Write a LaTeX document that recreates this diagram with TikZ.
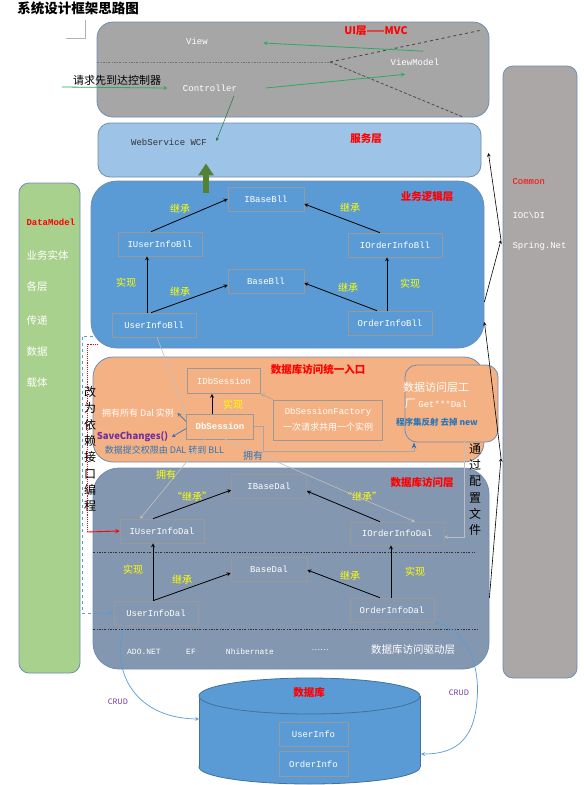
\documentclass[tikz,border=0pt]{standalone}
\usepackage{fontspec}
\setmainfont{Noto Sans CJK SC}
\newfontfamily\codefont{Liberation Mono}
\usetikzlibrary{arrows.meta,calc}

\definecolor{uigray}{HTML}{A6A6A6}
\definecolor{cmngray}{HTML}{ABA7A7}
\definecolor{svcblue}{HTML}{9DC3E6}
\definecolor{bllblue}{HTML}{5B9BD5}
\definecolor{entorange}{HTML}{F4B183}
\definecolor{dalslate}{HTML}{8497B0}
\definecolor{modelgreen}{HTML}{A9D18E}
\definecolor{rimblue}{HTML}{6F8DB3}
\definecolor{arrowgreen}{HTML}{2EAA5E}
\definecolor{blockgreen}{HTML}{548235}
\definecolor{tagyellow}{HTML}{FFFF00}
\definecolor{noteblue}{HTML}{2E75B6}
\definecolor{notepurple}{HTML}{7030A0}
\definecolor{dbrim}{HTML}{41719C}

\newcommand{\fsz}[2]{\fontsize{#1}{#2}\selectfont}

\tikzset{
  tier/.style={draw=rimblue, line width=0.8pt, rounded corners=#1, inner sep=0pt},
  cls/.style={draw=black!40, line width=0.6pt, text=white, font=\codefont\fsz{9}{10},
              inner sep=0pt, minimum height=24pt},
  code/.style={text=white, font=\codefont\fsz{9}{10}},
  tiername/.style={text=red, font=\bfseries\fsz{10.5}{12}},
  tag/.style={text=tagyellow, font=\fsz{10}{12}},
  inh/.style={->, black, line width=0.8pt},
  mvc/.style={->, arrowgreen, line width=0.8pt},
  wire/.style={->, black!25, line width=0.6pt},
  crud/.style={->, bllblue, line width=0.7pt},
  vtext/.style={align=center, font=\fsz{12}{16.3}},
}

\begin{document}
\begin{tikzpicture}[x=1pt, y=-1pt, >=stealth]
\useasboundingbox[fill=white] (0,0) rectangle (584,785);

% Title
\node[font=\bfseries\fsz{13.5}{15}] (ttl) at (78,8) {系统设计框架思路图};
\draw[black!30] (85,20) -- (85,38) -- (66,38);

% DataModel / Common columns
\node[tier=10pt, fill=modelgreen, minimum width=61pt, minimum height=490pt] (model) at (49.5,428) {};
\node[anchor=west, text=red, font=\codefont\bfseries\fsz{9}{10}] (dm) at (23,222) {DataModel};
\node[anchor=west, text=white, font=\fsz{10.5}{12}] (dm1) at (23,255) {业务实体};
\node[anchor=west, text=white, font=\fsz{10.5}{12}] (dm2) at (23,287) {各层};
\node[anchor=west, text=white, font=\fsz{10.5}{12}] (dm3) at (23,320) {传递};
\node[anchor=west, text=white, font=\fsz{10.5}{12}] (dm4) at (23,352) {数据};
\node[anchor=west, text=white, font=\fsz{10.5}{12}] (dm5) at (23,383) {载体};

\node[tier=10pt, fill=cmngray, minimum width=74pt, minimum height=612pt] (common) at (540,372) {};
\node[anchor=west, code, text=red] (cm) at (509,182) {Common};
\node[anchor=west, code] (cm1) at (509,215) {IOC\textbackslash DI};
\node[anchor=west, code] (cm2) at (509,246) {Spring.Net};

% UI layer
\node[tier=16pt, fill=uigray, minimum width=392pt, minimum height=95pt] (ui) at (293,69.5) {};
\node[tiername] (uiname) at (376,31) {UI层——MVC};
\coordinate (fork) at (330,62);
\draw[black!55, dash pattern=on 2pt off 1.5pt on 0.6pt off 1.5pt] (97,62) -- (fork);
\draw[black!70, dashed, line width=0.9pt] (fork) -- (482,30);
\draw[black!70, densely dashed, line width=0.8pt] (fork) -- (463,117);
\node[code] (view) at (197,41) {View};
\node[code] (vm) at (415,62) {ViewModel};
\node[code] (ctrl) at (210,88) {Controller};
\node[font=\fsz{11}{13}] (req) at (117,80) {请求先到达控制器};
\coordinate (reqin) at (62,87);
\draw[mvc] (reqin) -- ([xshift=-12pt]ctrl.west);
\draw[mvc] ($(vm.north)+(8,-4)$) -- ($(view.east)+(52,2)$);
\draw[mvc] ($(ctrl.east)+(25,0)$) -- ($(vm.south)+(-10,5.5)$);

% Service layer
\node[tier=12pt, fill=svcblue, minimum width=383pt, minimum height=54pt] (svc) at (289.5,150) {};
\node[tiername] (svcname) at (366,139) {服务层};
\node[code, text=black!80] (wcf) at (169,142) {WebService WCF};
\draw[->, arrowgreen!70!black, line width=0.5pt] ($(ctrl.south)+(24,1)$) -- ($(wcf.east)+(6,-1)$);

% Business logic layer
\node[tier=26pt, fill=bllblue, minimum width=393pt, minimum height=167pt] (bll) at (287.5,264.5) {};
\node[tiername] (bllname) at (427,197) {业务逻辑层};
\draw[-{Triangle[width=15pt,length=12pt]}, line width=6pt, blockgreen]
  ($(bll.north)+(-81.5,12)$) -- ($(svc.south)+(-83.5,-14)$);
\node[cls, minimum width=76pt] (ibasebll) at (266,199) {IBaseBll};
\node[cls, minimum width=84pt] (iubll) at (160,244) {IUserInfoBll};
\node[cls, minimum width=94pt] (iobll) at (395,245) {IOrderInfoBll};
\node[cls, minimum width=76pt] (basebll) at (266,281) {BaseBll};
\node[cls, minimum width=84pt] (ubll) at (154,325) {UserInfoBll};
\node[cls, minimum width=84pt] (obll) at (390,323) {OrderInfoBll};
\draw[inh] ([xshift=-7pt]ubll.north) -- ([xshift=-13pt]iubll.south);
\draw[inh] ([xshift=-9pt]iubll.north) -- (ibasebll.west);
\draw[inh] ([xshift=-3pt]ubll.north) -- ([yshift=-4pt]basebll.west);
\draw[inh] ([xshift=-3pt]obll.north) -- ([xshift=-8pt]iobll.south);
\draw[inh] ([xshift=-15pt]iobll.north) -- ([yshift=-5pt]ibasebll.east);
\draw[inh] ([xshift=-13pt]obll.north) -- ([yshift=-2pt]basebll.east);
\node[tag] (tb1) at (180,209) {继承};
\node[tag] (tb2) at (350,208) {继承};
\node[tag] (tb3) at (126,283) {实现};
\node[tag] (tb4) at (180,292) {继承};
\node[tag] (tb5) at (348,288) {继承};
\node[tag] (tb6) at (410,284) {实现};

% Unified entry (DbSession)
\node[tier=20pt, fill=entorange, minimum width=391pt, minimum height=105pt] (ent) at (288.5,409.5) {};
\node[tier=12pt, fill=entorange, minimum width=93pt, minimum height=77pt] (fact) at (451.5,403.5) {};
\node[tiername] (entname) at (318,369) {数据库访问统一入口};
\node[cls, minimum width=73pt, minimum height=25pt] (idbs) at (224,381) {IDbSession};
\node[cls, minimum width=67pt, minimum height=25pt, font=\codefont\bfseries\fsz{9}{10}] (dbs) at (220,426.5) {DbSession};
\node[cls, minimum width=109pt, minimum height=40pt, align=center, font=\fsz{9}{16}] (dsf) at (328,420)
  {{\codefont DbSessionFactory}\\一次请求共用一个实例};
\node[text=white, font=\fsz{9}{11}] (own) at (138,413) {拥有所有 Dal 实例};
\node[text=notepurple, font=\bfseries\fsz{9.5}{11}] (save) at (132.5,437) {SaveChanges()};
\node[text=noteblue, font=\fsz{9}{11}] (note) at (164.5,450) {数据提交权限由 DAL 转到 BLL};
\node[text=white, align=center, font=\fsz{11}{16}] (factname) at (436,395)
  {数据访问层工\\厂 {\codefont\fsz{9}{16}Get***Dal}};
\node[text=noteblue, font=\bfseries\fsz{8.5}{10}] (reflect) at (437,422) {程序集反射 去掉 new};
\draw[inh] ([xshift=-8pt]dbs.north) -- ([xshift=-12pt]idbs.south);
\node[tag] (te1) at (233,405) {实现};
\draw[->, black!35, line width=0.6pt] (dsf.north west) -- (idbs.south east);
\draw[->, noteblue, line width=0.7pt] ($(dbs.west)+(0,-5)$) -- (own.east);
\draw[->, noteblue, line width=0.7pt] ($(dbs.west)+(0,2)$) -- (save.east);
\draw[-{Stealth[color=noteblue]}, black!35, line width=0.7pt]
  (dbs.east) -- ++(10,0) -- ++(0,24.5) -| ([xshift=-37.5pt]fact.south);
\draw[wire] ([xshift=3pt]ubll.south) -- (dbs.north west);

% Data access layer
\node[tier=26pt, fill=dalslate, minimum width=396pt, minimum height=201pt] (dal) at (291,568.5) {};
\node[tiername] (dalname) at (422,483) {数据库访问层};
\draw[black!80, dash pattern=on 2pt off 1.5pt on 0.6pt off 1.5pt] (93,552) -- (474,552);
\draw[black!80, dash pattern=on 2pt off 1.5pt on 0.6pt off 1.5pt] (93,629) -- (478,629);
\node[cls, minimum width=75pt] (ibasedal) at (269,486) {IBaseDal};
\node[cls, minimum width=84pt] (iudal) at (162,531) {IUserInfoDal};
\node[cls, minimum width=94pt, minimum height=23pt] (iodal) at (397,533.5) {IOrderInfoDal};
\node[cls, minimum width=76pt] (basedal) at (269,569) {BaseDal};
\node[cls, minimum width=84pt] (udal) at (156,613) {UserInfoDal};
\node[cls, minimum width=84pt] (odal) at (392,610) {OrderInfoDal};
\draw[inh] ([xshift=-9pt]iudal.north) -- ([yshift=-4pt]ibasedal.west);
\draw[inh] ([xshift=-17pt]iodal.north) -- ([yshift=-5pt]ibasedal.east);
\draw[inh] ([xshift=-3pt]udal.north) -- ([xshift=-9pt]iudal.south);
\draw[inh] ([xshift=-3pt]udal.north) -- ([yshift=-4pt]basedal.west);
\draw[inh] ([xshift=-1pt]odal.north) -- ([xshift=-6pt]iodal.south);
\draw[inh] ([xshift=-12pt]odal.north) -- ([yshift=-1pt]basedal.east);
\node[tag] (td1) at (192,497) {“继承”};
\node[tag] (td2) at (362,497) {“继承”};
\node[tag] (td3) at (133,570) {实现};
\node[tag] (td4) at (182,580) {继承};
\node[tag] (td5) at (350,576) {继承};
\node[tag] (td6) at (415,572) {实现};
\draw[wire] ([xshift=-15pt]dbs.south) -- ([xshift=-22pt]iudal.north);
\draw[wire] ([xshift=5pt]dbs.south) -- ([xshift=18pt]iodal.north);
\node[tag] (own1) at (166,475) {拥有};
\node[text=noteblue, font=\fsz{10}{12}] (own2) at (253,456) {拥有};
\draw[wire] ([xshift=12.5pt]fact.south) |- ([yshift=-3.5pt]iodal.east);

% Driver row
\node[code, font=\codefont\fsz{8}{10}] (ado) at (144,652) {ADO.NET};
\node[code, font=\codefont\fsz{8}{10}] (ef) at (191,652) {EF};
\node[code, font=\codefont\fsz{8}{10}] (nh) at (250,652) {Nhibernate};
\node[text=white, font=\fsz{8}{10}] (more) at (320,650) {……};
\node[text=white, font=\fsz{10.5}{12}] (drv) at (413,650) {数据库访问驱动层};

% Interface programming hints
\coordinate (bluetap) at (93,336);
\coordinate (redtap) at (98,344);
\coordinate (redbend) at (87,532);
\draw[->, bllblue, dashed, line width=1pt] (bluetap) -- ++(-11,0) |- (udal.west);
\draw[red, densely dotted, line width=0.9pt] (redtap) -| (redbend);
\draw[->, red, line width=0.9pt] (redbend) -- (iudal.west);
\node[vtext] (dep) at (90,449) {改\\为\\依\\赖\\接\\口\\编\\程};
\node[vtext] (cfg) at (475,489.5) {通\\过\\配\\置\\文\\件};

% Common links
\coordinate (hub1) at (501,240);
\coordinate (hub2) at (501,458);
\draw[->, line width=0.6pt] ($(bll.east)+(0,37.5)$) -- (hub1);
\draw[->, line width=0.6pt] (hub1) -- ($(svc.east)+(7,3)$);
\draw[->, line width=0.6pt] ($(dal.east)+(0,29.5)$) -- (hub2);
\draw[->, line width=0.6pt] (hub2) -- ($(bll.east)+(0,57.5)$);

% Database
\filldraw[fill=bllblue, draw=dbrim, line width=0.8pt] (309.5,767) ellipse [x radius=110.5, y radius=17];
\fill[bllblue] (199,696) rectangle (420,767);
\draw[dbrim, line width=0.8pt] (199,696) -- (199,767) (420,696) -- (420,767);
\filldraw[fill=bllblue, draw=dbrim, line width=0.8pt] (309.5,696) ellipse [x radius=110.5, y radius=18];
\node[tiername] (dbname) at (309,692) {数据库};
\node[cls, minimum width=69pt] (tuser) at (313.5,734) {UserInfo};
\node[cls, minimum width=69pt, minimum height=25pt] (torder) at (313.5,764) {OrderInfo};
\coordinate (dbl) at (199,719);
\coordinate (dbr) at (421,754);
\draw[crud] ([xshift=-31pt]udal.south) .. controls (110,665) and (130,718) .. (dbl);
\draw[crud] (odal.south east) .. controls (470,630) and (480,670) .. (477,700)
  .. controls (474,745) and (450,754) .. (dbr);
\node[text=notepurple, font=\fsz{7.5}{9}] (crud1) at (118,702) {CRUD};
\node[text=notepurple, font=\fsz{7.5}{9}] (crud2) at (459,693) {CRUD};
\end{tikzpicture}
\end{document}
